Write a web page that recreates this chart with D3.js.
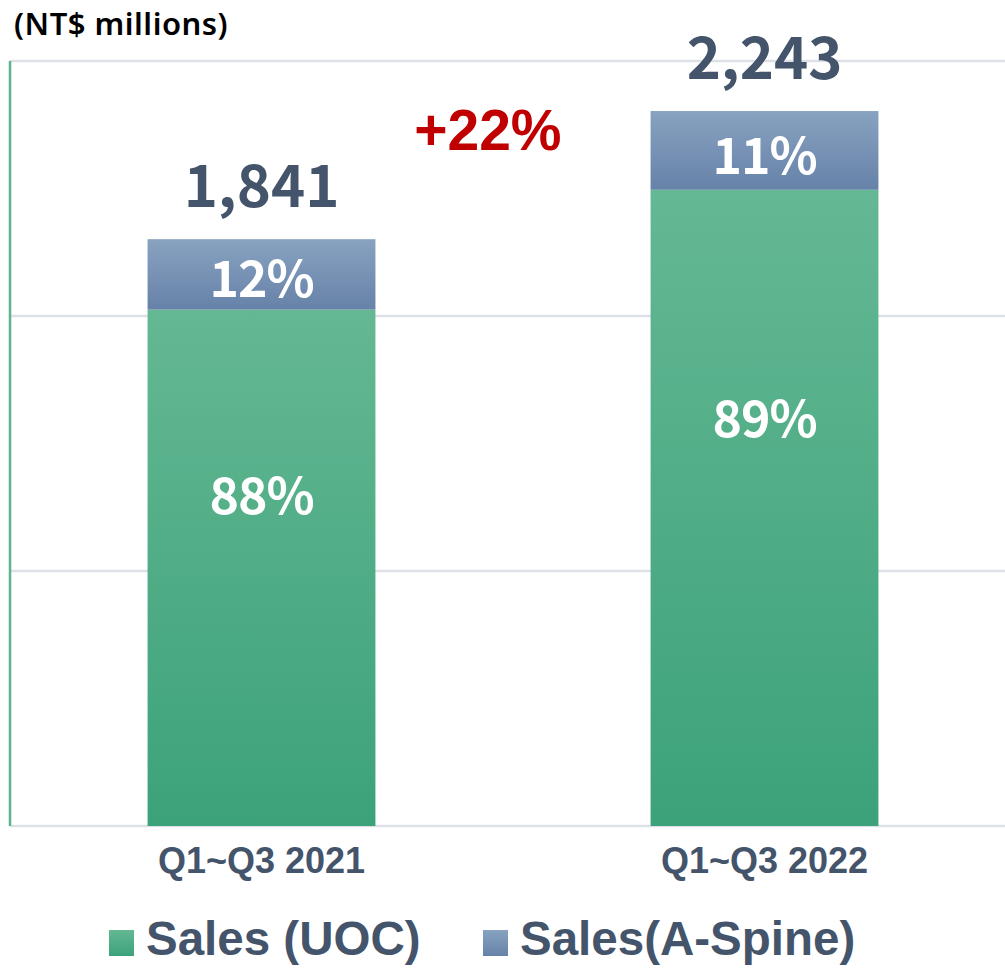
<!DOCTYPE html>
<html>
<head>
<meta charset="utf-8">
<script src="https://cdn.jsdelivr.net/npm/d3@7/dist/d3.min.js"></script>
<style>
  html, body { margin: 0; padding: 0; background: #fff; }
  svg { display: block; }
</style>
</head>
<body>
<svg id="chart"></svg>
<script>
// data (NT$ millions)
var periods = ['Q1~Q3 2021', 'Q1~Q3 2022'];
var salesUOC = [1620, 1996];
var salesASpine = [221, 247];
var seriesNames = ['Sales (UOC)', 'Sales(A-Spine)'];
var yTicks = [0, 800, 1600, 2400];

var W = 1005, H = 969;
var svg = d3.select('#chart').attr('width', W).attr('height', H);

var x = d3.scaleBand().domain(periods).range([10, 1016])
  .paddingInner(0.547).paddingOuter(0.2735);
var y = d3.scaleLinear().domain([0, 2400]).range([826, 61]);

var slate = '#44546a';

// gradients
var defs = svg.append('defs');
function grad(id, top, bottom) {
  var g = defs.append('linearGradient').attr('id', id)
    .attr('x1', 0).attr('y1', 0).attr('x2', 0).attr('y2', 1);
  g.append('stop').attr('offset', '0%').attr('stop-color', top);
  g.append('stop').attr('offset', '100%').attr('stop-color', bottom);
}
grad('gGreen', '#64b893', '#3ca27a');
grad('gBlue', '#88a2c0', '#6682a8');

// gridlines
svg.append('g')
  .selectAll('line').data(yTicks).enter().append('line')
  .attr('x1', 10).attr('x2', W)
  .attr('y1', function(d) { return y(d); })
  .attr('y2', function(d) { return y(d); })
  .attr('stroke', '#dde1e7').attr('stroke-width', 2.5);

// left axis line
svg.append('line')
  .attr('x1', 10).attr('x2', 10)
  .attr('y1', y(2400)).attr('y2', y(0))
  .attr('stroke', '#5bb58f').attr('stroke-width', 2.5);

// stacked bars
var rows = periods.map(function(p, i) {
  return { period: p, uoc: salesUOC[i], asp: salesASpine[i], total: salesUOC[i] + salesASpine[i] };
});
var stack = d3.stack().keys(['uoc', 'asp'])(rows);
var fills = ['url(#gGreen)', 'url(#gBlue)'];
var labelPos = [0.36, 0.57]; // where the share label sits within its segment

stack.forEach(function(layer, li) {
  var g = svg.append('g');
  g.selectAll('rect').data(layer).enter().append('rect')
    .attr('x', function(d) { return x(d.data.period); })
    .attr('width', x.bandwidth())
    .attr('y', function(d) { return y(d[1]); })
    .attr('height', function(d) { return y(d[0]) - y(d[1]); })
    .attr('fill', fills[li]);

  g.selectAll('text').data(layer).enter().append('text')
    .attr('x', function(d) { return x(d.data.period) + x.bandwidth() / 2; })
    .attr('y', function(d) {
      return y(d[1]) + labelPos[li] * (y(d[0]) - y(d[1]));
    })
    .attr('dy', '0.36em')
    .attr('text-anchor', 'middle')
    .attr('fill', '#fff')
    .style('font-family', '"Noto Sans CJK TC", "Noto Sans", sans-serif')
    .style('font-weight', 700)
    .style('font-size', '50px')
    .style('letter-spacing', '-1px')
    .text(function(d) { return Math.round((d[1] - d[0]) / d.data.total * 100) + '%'; });
});

// totals
svg.append('g').selectAll('text').data(rows).enter().append('text')
  .attr('x', function(d) { return x(d.period) + x.bandwidth() / 2; })
  .attr('y', function(d) { return y(d.total) - 32; })
  .attr('text-anchor', 'middle')
  .attr('fill', slate)
  .style('font-family', '"Noto Sans CJK TC", "Noto Sans", sans-serif')
  .style('font-weight', 700)
  .style('font-size', '58px')
  .text(function(d) { return d3.format(',')(d.total); });

// growth
var growth = rows[1].total / rows[0].total - 1;
svg.append('text')
  .attr('x', x(periods[0]) + x.bandwidth() / 2 + 0.45 * x.step())
  .attr('y', 150)
  .attr('text-anchor', 'middle')
  .attr('fill', '#c00000')
  .style('font-family', '"Liberation Sans", Arial, sans-serif')
  .style('font-weight', 700)
  .style('font-size', '57px')
  .text('+' + Math.round(growth * 100) + '%');

// category labels
svg.append('g').selectAll('text').data(periods).enter().append('text')
  .attr('x', function(d) { return x(d) + x.bandwidth() / 2; })
  .attr('y', 873)
  .attr('text-anchor', 'middle')
  .attr('fill', slate)
  .style('font-family', '"Liberation Sans", Arial, sans-serif')
  .style('font-weight', 700)
  .style('font-size', '36px')
  .text(function(d) { return d; });

// unit label
svg.append('text')
  .attr('x', 14).attr('y', 35)
  .attr('fill', '#000')
  .style('font-family', '"Noto Sans", sans-serif')
  .style('font-weight', 600)
  .style('font-size', '31px')
  .style('letter-spacing', '0.5px')
  .text('(NT$ millions)');

// legend
var legendX = [109, 483];
var lg = svg.append('g').selectAll('g').data(seriesNames).enter().append('g')
  .attr('transform', function(d, i) { return 'translate(' + legendX[i] + ',930)'; });
lg.append('rect')
  .attr('width', 25).attr('height', 26)
  .attr('fill', function(d, i) { return fills[i]; });
lg.append('text')
  .attr('x', 37).attr('y', 25)
  .attr('fill', slate)
  .style('font-family', '"Liberation Sans", Arial, sans-serif')
  .style('font-weight', 700)
  .style('font-size', '47.5px')
  .text(function(d) { return d; });
</script>
</body>
</html>
